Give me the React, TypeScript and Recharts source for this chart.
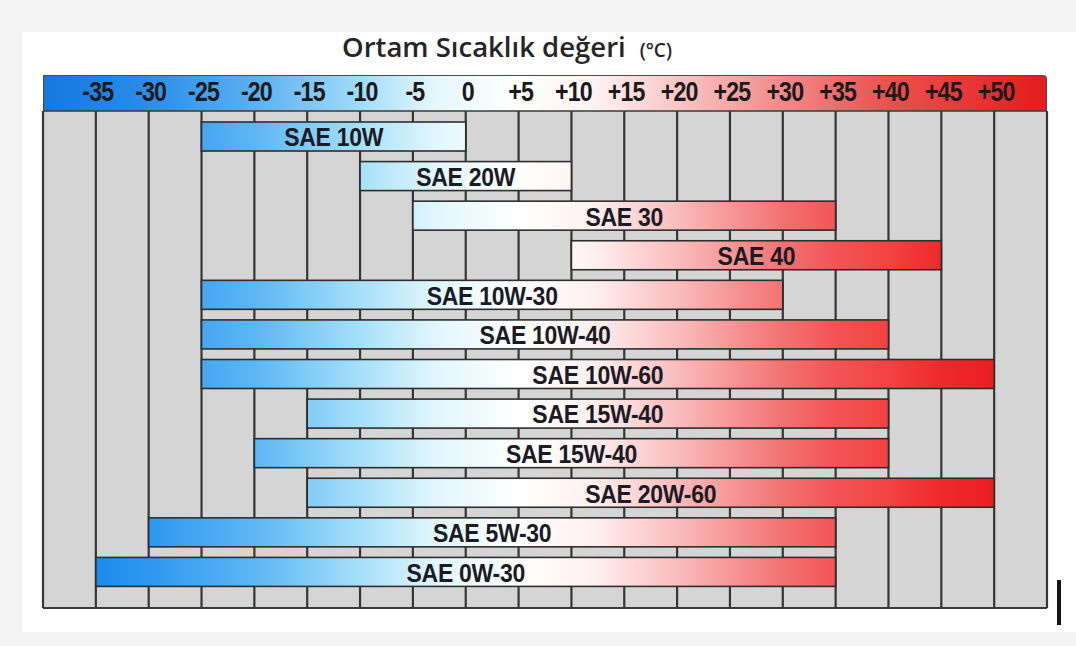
import { BarChart, Bar, XAxis, YAxis, CartesianGrid } from 'recharts';

// engine oil grades and the ambient temperature range each one covers (°C)
const OILS = [
    'SAE 10W',
    'SAE 20W',
    'SAE 30',
    'SAE 40',
    'SAE 10W-30',
    'SAE 10W-40',
    'SAE 10W-60',
    'SAE 15W-40',
    'SAE 15W-40',
    'SAE 20W-60',
    'SAE 5W-30',
    'SAE 0W-30',
];
const MIN_TEMP = [-25, -10, -5, 10, -25, -25, -25, -15, -20, -15, -30, -35];
const MAX_TEMP = [0, 10, 35, 45, 30, 40, 50, 40, 40, 50, 35, 35];

// scale edges and labelled ticks
const DOMAIN: [number, number] = [-40, 55];
const TICK_VALUES = [-35, -30, -25, -20, -15, -10, -5, 0, 5, 10, 15, 20, 25, 30, 35, 40, 45, 50];

// cold -> warm colour ramps (style only)
const HEAD_TEMPS = [-40, -30, -20, -10, -3, 5, 12, 20, 30, 40, 55];
const HEAD_COLORS = ['#1576e0', '#2b8eea', '#5cb0f2', '#a2dcf8', '#e4f7fc', '#ffffff', '#fff2f2', '#f9c6c6', '#f28a8a', '#ed5050', '#e41c1c'];
const BAR_TEMPS = [-40, -35, -30, -20, -10, -3, 5, 12, 20, 30, 35, 40, 45, 55];
const BAR_COLORS = ['#1580e6', '#1c8aea', '#2e98ee', '#5cb6f4', '#a6e0f9', '#e0f6fc', '#ffffff', '#fff0f0', '#fbbcbc', '#f27272', '#f45454', '#f24242', '#ee2a2a', '#e41414'];

const data = OILS.map((name, i) => ({ id: i, name, range: [MIN_TEMP[i], MAX_TEMP[i]] }));

const span = DOMAIN[1] - DOMAIN[0];
const rampOffset = (t: number) => ((t - DOMAIN[0]) / span) * 100;

const headerGradient = `linear-gradient(to right, ${HEAD_TEMPS.map(
    (t, i) => `${HEAD_COLORS[i]} ${rampOffset(t).toFixed(1)}%`,
).join(', ')})`;

const FONT = '"Liberation Sans", Arial, sans-serif';

function OilBar(props: any) {
    const { x, y, width, height, payload, index } = props;
    const [lo, hi] = payload.range;
    // map the whole temperature scale onto this bar's pixel space so colours line up
    const ppu = width / (hi - lo);
    const gx0 = x - (lo - DOMAIN[0]) * ppu;
    const gx1 = gx0 + span * ppu;
    const id = `oil-grad-${index}`;
    const cx = x + width / 2;
    const cy = y + height / 2;
    return (
        <g>
            <defs>
                <linearGradient id={id} gradientUnits="userSpaceOnUse" x1={gx0} x2={gx1} y1={0} y2={0}>
                    {BAR_TEMPS.map((t, i) => (
                        <stop key={t} offset={`${rampOffset(t)}%`} stopColor={BAR_COLORS[i]} />
                    ))}
                </linearGradient>
            </defs>
            <rect
                x={x}
                y={y}
                width={width}
                height={height}
                fill={`url(#${id})`}
                stroke="#2e2e2e"
                strokeWidth={1.6}
            />
            <text
                transform={`translate(${cx},${cy + 1}) scale(0.92,1)`}
                textAnchor="middle"
                dominantBaseline="central"
                fontFamily={FONT}
                fontWeight="bold"
                fontSize={25}
                letterSpacing={-0.3}
                fill="#1b1b26"
            >
                {payload.name}
            </text>
        </g>
    );
}

function HeaderTick(props: any) {
    const { x, y, payload } = props;
    const v = payload.value;
    if (v <= DOMAIN[0] || v >= DOMAIN[1]) return null;
    const label = v > 0 ? `+${v}` : `${v}`;
    return (
        <text
            transform={`translate(${x + 2},${y - 8}) scale(0.86,1)`}
            textAnchor="middle"
            fontFamily={FONT}
            fontWeight="bold"
            fontSize={27}
            letterSpacing={-1}
            fill="#1a1a1a"
        >
            {label}
        </text>
    );
}

export default function App() {
    return (
        <div
            style={{
                position: 'absolute',
                left: 0,
                top: 0,
                width: 1076,
                height: 646,
                background: '#f3f3f3',
                overflow: 'hidden',
            }}
        >
            <div
                style={{
                    position: 'absolute',
                    left: 22,
                    top: 32,
                    width: 1054,
                    height: 600,
                    background: '#ffffff',
                }}
            />
            <div
                style={{
                    position: 'absolute',
                    left: 342,
                    top: 28,
                    whiteSpace: 'nowrap',
                    fontFamily: '"Open Sans", sans-serif',
                    fontWeight: 600,
                    fontSize: 27.5,
                    color: '#252525',
                }}
            >
                Ortam Sıcaklık değeri
                <span style={{ fontSize: 19, marginLeft: 14 }}>(°C)</span>
            </div>
            <div
                style={{
                    position: 'absolute',
                    left: 43,
                    top: 75,
                    width: 1004,
                    height: 36,
                    boxSizing: 'border-box',
                    background: headerGradient,
                    border: '1.5px solid #4a4a4a',
                    borderBottom: 'none',
                    borderTopRightRadius: 4,
                }}
            />
            <div
                style={{
                    position: 'absolute',
                    left: 1057,
                    top: 580,
                    width: 4,
                    height: 45,
                    background: '#151515',
                }}
            />
            <div style={{ position: 'absolute', left: 0, top: 0 }}>
                <BarChart
                    width={1076}
                    height={646}
                    data={data}
                    layout="vertical"
                    barSize={29}
                    margin={{ top: 75, right: 29, bottom: 37, left: 43 }}
                >
                    <CartesianGrid
                        horizontal={false}
                        stroke="#363636"
                        strokeWidth={2.2}
                        fill="#d5d5d5"
                        fillOpacity={1}
                    />
                    <XAxis
                        type="number"
                        orientation="top"
                        domain={DOMAIN}
                        ticks={[DOMAIN[0], ...TICK_VALUES, DOMAIN[1]]}
                        allowDataOverflow
                        interval={0}
                        height={36}
                        axisLine={{ stroke: '#3a3a3a', strokeWidth: 1.5 }}
                        tickLine={false}
                        tickSize={0}
                        tick={<HeaderTick />}
                    />
                    <XAxis
                        xAxisId="bottom"
                        type="number"
                        orientation="bottom"
                        domain={DOMAIN}
                        allowDataOverflow
                        height={1}
                        tick={false}
                        tickLine={false}
                        axisLine={{ stroke: '#3a3a3a', strokeWidth: 2.2 }}
                    />
                    <YAxis
                        type="category"
                        dataKey="id"
                        hide
                        padding={{ top: 6, bottom: 16 }}
                    />
                    <Bar dataKey="range" shape={<OilBar />} isAnimationActive={false} />
                </BarChart>
            </div>
        </div>
    );
}
